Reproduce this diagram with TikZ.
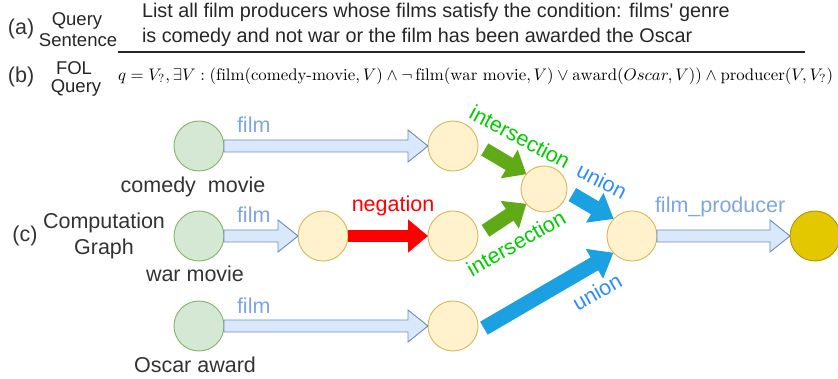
\documentclass[tikz,border=0pt]{standalone}
\usepackage{fontspec}
\usepackage{graphicx}
\usetikzlibrary{arrows.meta,calc}
\newfontfamily\lsans{Liberation Sans}
\definecolor{gfill}{HTML}{D5E8D4}
\definecolor{gdraw}{HTML}{82B366}
\definecolor{yfill}{HTML}{FFF2CC}
\definecolor{ydraw}{HTML}{D6B656}
\definecolor{aufill}{HTML}{E3C800}
\definecolor{audraw}{HTML}{B09500}
\definecolor{hfill}{HTML}{DAE8FC}
\definecolor{hdraw}{HTML}{6C8EBF}
\definecolor{filmc}{HTML}{7EA6E0}
\definecolor{interc}{HTML}{00CC00}
\definecolor{unionc}{HTML}{2B8CFF}
\definecolor{garr}{HTML}{60A917}
\definecolor{barr}{HTML}{1BA1E2}
\definecolor{rarr}{HTML}{FF0000}
\newcommand\holarrow[2]{%
  \draw[hollowarr] ($(#1.east)+(0,-6)$) -- ($(#2.west)+(-20,-6)$) -- ($(#2.west)+(-20,-16)$)
    -- (#2.west) -- ($(#2.west)+(-20,16)$) -- ($(#2.west)+(-20,6)$) -- ($(#1.east)+(0,6)$) -- cycle;}
\begin{document}
\begin{tikzpicture}[x=1pt,y=-1pt,
  every node/.style={inner sep=0pt, outer sep=0pt},
  gnode/.style={circle, minimum size=50pt, fill=gfill, draw=gdraw, line width=0.9pt},
  ynode/.style={circle, minimum size=50pt, fill=yfill, draw=ydraw, line width=0.9pt},
  aunode/.style={circle, minimum size=50pt, fill=aufill, draw=audraw, line width=0.9pt},
  hollowarr/.style={fill=hfill, draw=hdraw, line width=0.9pt, line join=miter},
  lbl/.style={font=\lsans\fontsize{21.5}{26}\selectfont, text=black!80},
  top/.style={font=\lsans\fontsize{19.8}{24}\selectfont, text=black!85},
  small/.style={font=\lsans\fontsize{18.5}{22}\selectfont, text=black!85},
  greenarr/.style={draw=garr, line width=14pt, -{Triangle[length=20pt,width=32pt]}},
  bluearr/.style={draw=barr, line width=15pt, -{Triangle[length=22pt,width=33pt]}},
  redarr/.style={draw=rarr, line width=12pt, -{Triangle[length=20pt,width=32pt]}},
]
\useasboundingbox (0,0) rectangle (838,379);

% ---- top part
\node[lbl, anchor=base west] (la) at (8,35) {(a)};
\node[small, anchor=base] (q1) at (77,26) {Query};
\node[small, anchor=base] (q2) at (78,47) {Sentence};
\node[top, anchor=base west] (s1) at (142,18) {List all film producers whose films satisfy the condition: films' genre};
\node[top, anchor=base west] (s2) at (142,43) {is comedy and not war or the film has been awarded the Oscar};
\coordinate (hl1) at (118,52);
\coordinate (hl2) at (805,52);
\draw[line width=1.3pt, black!85] (hl1) -- (hl2);
\node[lbl, anchor=base west] (lb) at (8,83) {(b)};
\node[small, anchor=base] (f1) at (74,75) {FOL};
\node[small, anchor=base] (f2) at (76,93) {Query};
\node[anchor=west] (fol) at (118,76) {\resizebox{715pt}{!}{$q = V_{?}, \exists V : (\mathrm{film}(\mathrm{comedy\mbox{\rmfamily -}movie}, V) \land \neg\, \mathrm{film}(\mathrm{war\ movie}, V) \lor \mathrm{award}(Oscar, V)) \land \mathrm{producer}(V, V_{?})$}};

% ---- graph nodes
\node[gnode] (c1) at (199,146) {};
\node[ynode] (c2) at (453,146) {};
\node[gnode] (w0) at (199,236) {};
\node[ynode] (w1) at (323,236) {};
\node[ynode] (w2) at (453,236) {};
\node[gnode] (o1) at (199,326) {};
\node[ynode] (o2) at (453,326) {};
\node[ynode, minimum size=46pt] (in) at (544,189) {};
\node[ynode] (un) at (632,236) {};
\node[aunode] (ans) at (815,236) {};

% ---- connectors
\holarrow{c1}{c2}
\holarrow{w0}{w1}
\holarrow{o1}{o2}
\holarrow{un}{ans}
\draw[redarr] (w1.east) -- (w2.west);
\draw[greenarr] ($(c2.-8)+(7,0)$) -- (in.140);
\draw[greenarr] ($(w2.12)+(8,0)$) -- (in.220);
\draw[bluearr] ($(in.-14)+(6,0)$) -- (un.137);
\draw[bluearr] ($(o2.-5)+(6,0)$) -- (un.222);

% ---- labels
\node[lbl, text=filmc, anchor=base west] (l1) at (237,133) {film};
\node[lbl, text=filmc, anchor=base west] (l2) at (237,223) {film};
\node[lbl, text=filmc, anchor=base west] (l3) at (237,313) {film};
\node[lbl, text=rarr, anchor=base] (lneg) at (393,212) {negation};
\node[lbl, text=filmc, anchor=base west] (lfp) at (655,213) {film\_producer};
\node[lbl, text=interc, rotate=-28] (li1) at (520,137) {intersection};
\node[lbl, text=interc, rotate=30] (li2) at (516,243) {intersection};
\node[lbl, text=unionc, rotate=-27] (lu1) at (602,181) {union};
\node[lbl, text=unionc, rotate=29.5] (lu2) at (597,292) {union};
\node[lbl, anchor=base] (n1) at (193,193) {comedy\ \ movie};
\node[lbl, anchor=base] (n2) at (195,282) {war movie};
\node[lbl, anchor=base] (n3) at (195,372) {Oscar award};
\node[lbl] (lc) at (25,236) {(c)};
\node[lbl, align=center] (cg) at (104,236) {Computation\\Graph};
\end{tikzpicture}
\end{document}
